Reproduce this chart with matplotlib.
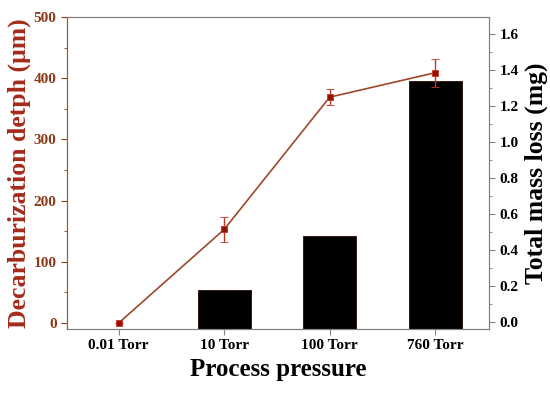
import numpy as np
import matplotlib
matplotlib.use('Agg')
import matplotlib.pyplot as plt
from matplotlib.ticker import MultipleLocator

plt.rcParams['font.family'] = ['Liberation Serif', 'DejaVu Serif']
plt.rcParams['font.weight'] = 'bold'

# data
pressures = ['0.01 Torr', '10 Torr', '100 Torr', '760 Torr']
depth = [0, 153, 369, 409]          # decarburization depth, um
depth_err = [0, 20, 13, 23]
mass_loss = [0.0, 0.176, 0.48, 1.34]  # total mass loss, mg

red = '#A52A1A'
line_col = '#A0482A'
grey = '#808080'

x = np.arange(len(pressures))

fig = plt.figure(figsize=(5.5, 3.95), dpi=100)
ax = fig.add_axes([67/550, 1 - 329/395, (489-67)/550, (329-17)/395])
ax2 = ax.twinx()

# bars on the right axis, drawn from the bottom spine up
y2min, y2max = -0.039, 1.694
ax2.set_ylim(y2min, y2max)
m = np.array(mass_loss) > 0
heights = np.array(mass_loss) - y2min
ax2.bar(x[m], heights[m], bottom=y2min, width=0.5, color='black',
        edgecolor='#2a0a00', linewidth=0.6, zorder=1)
ax2.set_yticks(np.arange(0, 1.61, 0.2))
ax2.set_yticklabels(['%.1f' % v for v in np.arange(0, 1.61, 0.2)])
ax2.yaxis.set_minor_locator(MultipleLocator(0.1))
ax2.set_ylabel('Total mass loss (mg)', fontsize=18.5, fontweight='bold', labelpad=4)

# line with error bars on the left axis, drawn on top
ax.set_zorder(ax2.get_zorder() + 1)
ax.patch.set_visible(False)
ax.errorbar(x, depth, yerr=depth_err, color=line_col, lw=1.2,
            marker='s', ms=5, mfc='#8B1500', mec='#D03020', mew=0.6,
            ecolor='#C03525', elinewidth=1.0, capsize=3, capthick=1.0)
ax.set_ylim(-9.8, 500)
ax.set_xlim(-0.49, 3.51)
ax.yaxis.set_major_locator(MultipleLocator(100))
ax.yaxis.set_minor_locator(MultipleLocator(50))
ax.set_xticks(x)
ax.set_xticklabels(pressures, fontsize=11, fontweight='bold')
ax.set_xlabel('Process pressure', fontsize=18, fontweight='bold', labelpad=4)
ax.set_ylabel('Decarburization detph (\u03bcm)', fontsize=18.5, fontweight='bold', color=red, labelpad=2)

for lab in ax.get_yticklabels():
    lab.set_color('#8B3A1A')
    lab.set_fontsize(11)
    lab.set_fontweight('bold')
for lab in ax2.get_yticklabels():
    lab.set_fontsize(11)
    lab.set_fontweight('bold')

ax.tick_params(axis='y', which='both', direction='out', colors='#8B3A1A', labelcolor='#8B3A1A')
ax.tick_params(axis='y', which='major', length=4)
ax.tick_params(axis='y', which='minor', length=2)
ax.tick_params(axis='x', direction='out', length=4, color=grey)
ax2.tick_params(axis='y', which='major', direction='out', length=4, color=grey)
ax2.tick_params(axis='y', which='minor', direction='out', length=2, color=grey)

for a in (ax, ax2):
    for s in ['top', 'right', 'bottom']:
        a.spines[s].set_color(grey)
    a.spines['left'].set_color('#A0583A')

fig.savefig('out.png', dpi=100)
